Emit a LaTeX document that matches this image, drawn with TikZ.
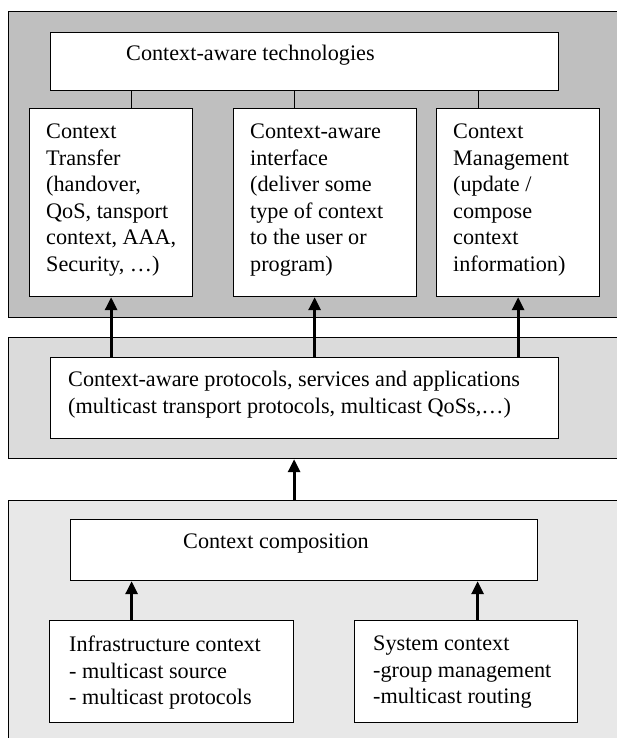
\documentclass[tikz,border=0pt]{standalone}
\usepackage{fontspec}
\setmainfont{Liberation Serif}
\usetikzlibrary{arrows.meta, positioning}

\begin{document}
\begin{tikzpicture}[
  x=1pt, y=-1pt,
  panel/.style={draw=black, line width=1.2pt, anchor=north west, inner sep=0pt},
  box/.style={draw=black, fill=white, line width=1.2pt, anchor=north west, inner sep=0pt},
  txt/.style={anchor=north west, inner sep=0pt, align=left,
              font=\fontsize{22.2}{26.5}\selectfont},
  link/.style={line width=1.2pt},
  uparrow/.style={line width=3pt, -{Triangle[length=13pt, width=12pt]}}
]
  \useasboundingbox (0,0) rectangle (617,738);
  \clip (0,0) rectangle (617,738);

  % Layers (they run off the right and bottom edge)
  \node[panel, fill=black!25, minimum width=620pt, minimum height=306pt] (techpanel) at (8,11) {};
  \node[panel, fill=black!14, minimum width=620pt, minimum height=121pt] (protopanel) at (8,337) {};
  \node[panel, fill=black!9, minimum width=620pt, minimum height=260pt] (basepanel) at (8,500) {};

  % Top layer: technologies
  \node[box, minimum width=508pt, minimum height=58pt] (tech) at (50,32) {};
  \node[txt] at (126,45) {Context-aware technologies};

  \node[box, minimum width=163pt, minimum height=188pt] (transfer) at (29,108) {};
  \node[box, minimum width=183pt, minimum height=188pt] (iface) at (233,108) {};
  \node[box, minimum width=163pt, minimum height=188pt] (mgmt) at (436,108) {};
  \node[txt] at ([shift={(17,16)}]transfer.north west)
    {Context\\Transfer\\(handover,\\QoS, tansport\\context, AAA,\\Security, …)};
  \node[txt] at ([shift={(17,16)}]iface.north west)
    {Context-aware\\interface\\(deliver some\\type of context\\to the user or\\program)};
  \node[txt] at ([shift={(17,16)}]mgmt.north west)
    {Context\\Management\\(update /\\compose\\context\\information)};

  % thin links from the technologies box
  \draw[link] ([xshift=20.5pt]transfer.north) -- ([xshift=20.5pt]transfer.north |- tech.south);
  \draw[link] ([xshift=-30.5pt]iface.north) -- ([xshift=-30.5pt]iface.north |- tech.south);
  \draw[link] ([xshift=-39.5pt]mgmt.north) -- ([xshift=-39.5pt]mgmt.north |- tech.south);

  % Middle layer: protocols
  \node[box, minimum width=508pt, minimum height=81pt] (proto) at (50,357) {};
  \node[txt] at ([shift={(18,14)}]proto.north west)
    {Context-aware protocols, services and applications\\(multicast transport protocols, multicast QoSs,…)};

  \draw[uparrow] (proto.north -| transfer.south) -- (transfer.south);
  \draw[uparrow] ([xshift=-10.5pt]iface.south |- proto.north) -- ([xshift=-10.5pt]iface.south);
  \draw[uparrow] (proto.north -| mgmt.south) -- (mgmt.south);

  % Bottom layer: composition
  \node[box, minimum width=467pt, minimum height=61pt] (comp) at (70,519) {};
  \node[txt] at (183,534) {Context composition};

  \node[box, minimum width=244pt, minimum height=102pt] (infra) at (49,620) {};
  \node[box, minimum width=223pt, minimum height=102pt] (system) at (354,620) {};
  \node[txt] at ([shift={(20,16)}]infra.north west)
    {Infrastructure context\\- multicast source\\- multicast protocols};
  \node[txt] at ([shift={(19,16)}]system.north west)
    {System context\\-group management\\-multicast routing};

  \draw[uparrow] ([xshift=-40pt]infra.north) -- ([xshift=-40pt]infra.north |- comp.south);
  \draw[uparrow] ([xshift=11.5pt]system.north) -- ([xshift=11.5pt]system.north |- comp.south);

  % between the layers
  \draw[uparrow] ([xshift=-10pt]comp.north |- basepanel.north) -- ([xshift=-10pt]comp.north |- protopanel.south);
\end{tikzpicture}
\end{document}
